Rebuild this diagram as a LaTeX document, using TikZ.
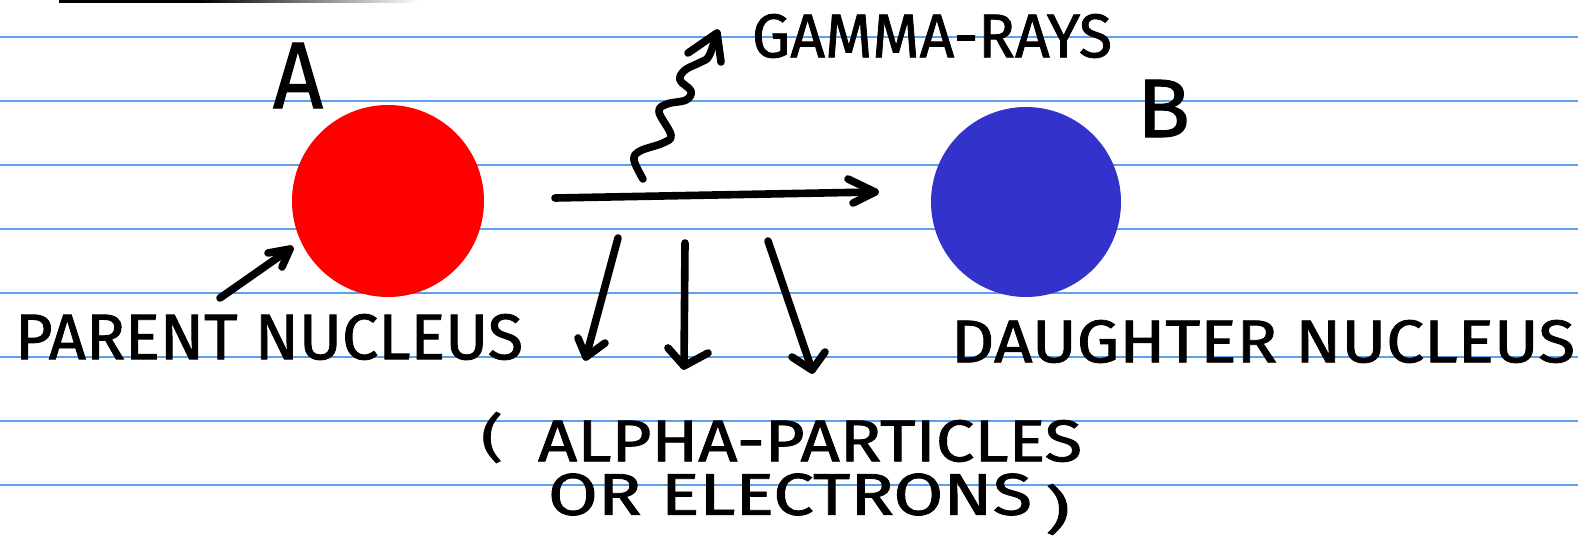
\documentclass[tikz,border=0pt]{standalone}
\usepackage{fontspec}
\setmainfont{Fira Sans}
\newfontfamily\handfont{Fira Sans}[BoldFont={Fira Sans}, BoldFeatures={FakeBold=1.3}]
\usetikzlibrary{calc}
\definecolor{rulecol}{RGB}{95,160,235}
\definecolor{nucred}{RGB}{255,0,0}
\definecolor{nucblue}{RGB}{51,51,204}
\begin{document}
\begin{tikzpicture}[x=0.5pt,y=-0.5pt,
  pen/.style={line width=3.8pt, line cap=round, line join=round, draw=black},
  hand/.style={inner sep=0pt, outer sep=0pt, font=\handfont\bfseries},
  nucleus/.style={circle, inner sep=0pt}]
\useasboundingbox (0,0) rectangle (1578,540);
\fill[white] (0,0) rectangle (1578,540);
% ruled paper
\foreach \y in {37,101,...,485} \draw[rulecol, line width=1pt] (0,\y) -- (1578,\y);
% top fading line
\fill[black] (59,0) rectangle (200,3);
\shade[left color=black, right color=white] (200,0) rectangle (420,3);
% nuclei
\node[nucleus, fill=nucred, minimum size=96pt] (parent) at (388,201) {};
\node[nucleus, fill=nucblue, minimum size=95pt] (daughter) at (1026,202) {};
% labels
\node[hand] (lA) at (298,75.5) {\resizebox*{25pt}{32.5pt}{A}};
\node[hand] (lB) at (1163.5,108.5) {\resizebox*{26.5pt}{28.5pt}{B}};
\node[hand] (gamma) at (932,36) {\resizebox*{180pt}{22pt}{GAMMA-RAYS}};
\node[hand] (pn) at (269,337) {\resizebox*{254pt}{23pt}{PARENT NUCLEUS}};
\node[hand] (dn) at (1263,341.5) {\resizebox*{312pt}{21.5pt}{DAUGHTER NUCLEUS}};
\node[hand] (lpar) at (492,437.5) {\resizebox*{11pt}{25.5pt}{(}};
\node[hand] (alpha) at (810,441) {\resizebox*{272pt}{21pt}{ALPHA-PARTICLES}};
\node[hand] (elec) at (790,494.5) {\resizebox*{242pt}{21pt}{OR ELECTRONS}};
\node[hand] (rpar) at (1057.5,509.5) {\resizebox*{12.5pt}{25.5pt}{)}};
% coordinates
\coordinate (m0) at (555,198); \coordinate (m1) at (875,192);
\coordinate (m1a) at (848,179); \coordinate (m1b) at (853,203);
\coordinate (d10) at (618,238); \coordinate (d11) at (586,357);
\coordinate (d11a) at (578,338); \coordinate (d11b) at (605,343);
\coordinate (d20) at (685,243); \coordinate (d21) at (684,366);
\coordinate (d21a) at (668,348); \coordinate (d21b) at (708,353);
\coordinate (d30) at (768,241); \coordinate (d31) at (812,370);
\coordinate (d31a) at (792,357); \coordinate (d31b) at (825,352);
\coordinate (p0) at (220,298); \coordinate (p1) at (290,249);
\coordinate (p1a) at (268,253); \coordinate (p1b) at (282,267);
\coordinate (g0) at (643,179); \coordinate (g1) at (717,33);
\coordinate (g1a) at (688,53); \coordinate (g1b) at (721,62);
% main arrow
\draw[pen] (m0) -- (m1);
\draw[pen] (m1a) -- (m1) -- (m1b);
% emission arrows
\draw[pen] (d10) -- (d11); \draw[pen] (d11a) -- (d11) -- (d11b);
\draw[pen] (d20) -- (d21); \draw[pen] (d21a) -- (d21) -- (d21b);
\draw[pen] (d30) -- (d31); \draw[pen] (d31a) -- (d31) -- (d31b);
% parent pointer
\draw[pen] (p0) -- (p1); \draw[pen] (p1a) -- (p1) -- (p1b);
% gamma squiggle
\draw[pen] plot[smooth, tension=0.6] coordinates {(g0) (634,160) (640,151) (663,143) (671,135) (659,112) (667,104) (686,100) (691,91) (680,80) (685,70) (701,62) (709,56) (g1)};
\draw[pen] (g1a) -- (g1) -- (g1b);
\end{tikzpicture}
\end{document}
